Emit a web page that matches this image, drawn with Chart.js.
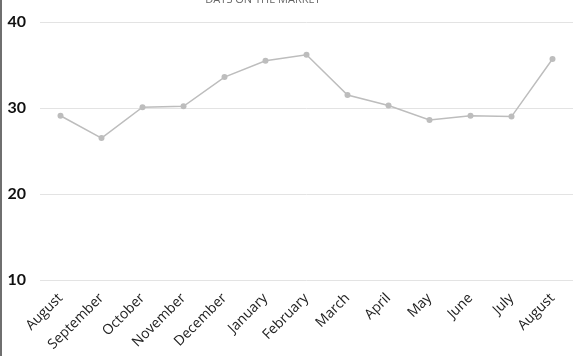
<!DOCTYPE html>
<html>
<head>
<meta charset="utf-8">
<script src="https://cdn.jsdelivr.net/npm/chart.js@4"></script>
<style>
  body { margin: 0; background: #fff; overflow: hidden; }
  .wrap { position: relative; width: 575px; height: 356px; border-left: 2px solid #6f6f6f; }
  .title { position: absolute; top: -9px; left: 0; width: 522px; text-align: center;
           font: 11px "Open Sans", sans-serif; color: #666; }
</style>
</head>
<body>
<div class="wrap">
  <div class="title">DAYS ON THE MARKET</div>
  <canvas id="chart" width="575" height="356"></canvas>
</div>
<script>
// months shown on the x axis
const months = ['August', 'September', 'October', 'November', 'December', 'January',
  'February', 'March', 'April', 'May', 'June', 'July', 'August'];

// average days on the market
const days = [29.1, 26.5, 30.1, 30.2, 33.6, 35.5, 36.2, 31.5, 30.3, 28.6, 29.1, 29.0, 35.7];

const ctx = document.getElementById('chart').getContext('2d');
const chart = new Chart(ctx, {
  type: 'line',
  data: {
    labels: months,
    datasets: [{
      data: days,
      borderColor: '#bdbdbd',
      backgroundColor: '#bdbdbd',
      borderWidth: 1.5,
      pointRadius: 3,
      pointBorderWidth: 0,
      tension: 0,
      fill: false
    }]
  },
  options: {
    responsive: false,
    animation: false,
    layout: { padding: { top: 22, right: 0, left: 0, bottom: 0 } },
    plugins: {
      legend: { display: false },
      tooltip: { enabled: false }
    },
    scales: {
      x: {
        offset: true,
        grid: { display: false },
        border: { display: false },
        // keep the rotated labels from pushing the plot area around
        afterFit: (scale) => {
          scale.height = 76;
          scale.paddingLeft = 0;
          scale.paddingRight = 0;
        },
        ticks: {
          minRotation: 45,
          maxRotation: 45,
          color: '#222',
          padding: 2,
          font: { family: 'Open Sans', size: 14 }
        }
      },
      y: {
        min: 10,
        max: 40,
        border: { display: false },
        grid: { color: '#e3e3e3', drawTicks: false },
        afterFit: (scale) => {
          scale.width = 38;
          scale.paddingTop = 0;
          scale.paddingBottom = 0;
        },
        ticks: {
          stepSize: 10,
          color: '#111',
          padding: 14,
          font: { family: 'Lato', size: 16, weight: 'bold' }
        }
      }
    }
  }
});
</script>
</body>
</html>
